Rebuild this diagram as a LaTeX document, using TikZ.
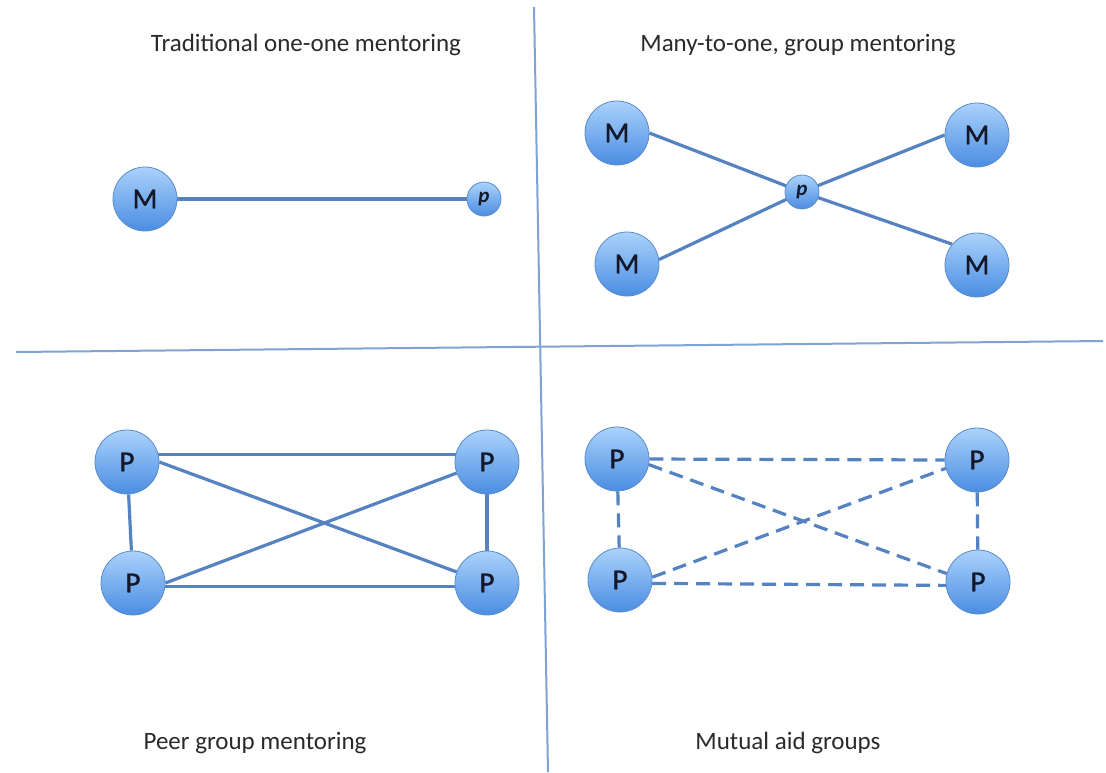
\documentclass[tikz,border=0pt]{standalone}
\usepackage{fontspec}
\setmainfont{Carlito}
\newfontfamily\letterfont[FakeBold=1.2]{Carlito}
\usetikzlibrary{backgrounds}
\definecolor{nodetop}{HTML}{AAD2FB}
\definecolor{nodebot}{HTML}{4A8DE2}
\definecolor{nodeborder}{HTML}{5A8CCB}
\definecolor{linkcol}{HTML}{5582C0}
\definecolor{divcol}{HTML}{7FA3D4}
\definecolor{txtcol}{HTML}{2A2A2A}
\definecolor{lettercol}{HTML}{141828}
\tikzset{
  bignode/.style={circle, minimum size=64pt, inner sep=0pt, top color=nodetop, bottom color=nodebot, draw=nodeborder, line width=0.8pt, text=lettercol, font=\letterfont\fontsize{29}{30}\selectfont\addfontfeature{FakeBold=1.2}},
  smallnode/.style={circle, minimum size=34pt, inner sep=0pt, top color=nodetop, bottom color=nodebot, draw=nodeborder, line width=0.8pt, text=lettercol, font=\fontsize{21}{22}\selectfont\bfseries\itshape},
  link/.style={draw=linkcol, line width=3.2pt},
  dlink/.style={draw=linkcol, line width=3.2pt, dash pattern=on 14pt off 8pt},
  divider/.style={draw=divcol, line width=2pt},
  title/.style={text=txtcol, font=\fontsize{25}{29}\selectfont, inner sep=0pt}
}
\begin{document}
\begin{tikzpicture}[x=1pt,y=-1pt]
\useasboundingbox (0,0) rectangle (1106,772);
% dividers
\coordinate (hl) at (16,352);
\coordinate (hr) at (1103,341);
\coordinate (vt) at (534,7);
\coordinate (vb) at (548,772);
\draw[divider] (hl) -- (hr);
\draw[divider] (vt) -- (vb);
% titles
\node[title] (t1) at (306,45) {Traditional one-one mentoring};
\node[title] (t2) at (798,45) {Many-to-one, group mentoring};
\node[title] (t3) at (255,743) {Peer group mentoring};
\node[title] (t4) at (788,743) {Mutual aid groups};
% top-left
\node[bignode] (m1) at (145,199) {M};
\node[smallnode] (p1) at (484,199) {p};
% top-right
\node[bignode] (m2) at (617,133) {M};
\node[bignode] (m3) at (977,135) {M};
\node[bignode] (m4) at (627,264) {M};
\node[bignode] (m5) at (977,265) {M};
\node[smallnode] (p2) at (802,192) {p};
% bottom-left
\node[bignode] (a1) at (127,462) {P};
\node[bignode] (a2) at (133,583) {P};
\node[bignode] (a3) at (487,462) {P};
\node[bignode] (a4) at (487,583) {P};
% bottom-right
\node[bignode] (b1) at (617,459) {P};
\node[bignode] (b2) at (620,580) {P};
\node[bignode] (b3) at (977,460) {P};
\node[bignode] (b4) at (978,582) {P};
\begin{scope}[on background layer]
\fill[white] (0,0) rectangle (1106,772);
\draw[link] (m1.east) -- (p1.west);
\draw[link] (m2.east) -- (p2.center) -- (m5.140);
\draw[link] (m4.8) -- (p2.center) -- (m3.west);
\draw[link] (a1.14) -- (a3.166);
\draw[link] (a2.-6) -- (a4.186);
\draw[link] (a1) -- (a2);
\draw[link] (a3) -- (a4);
\draw[link] (a1.east) -- (a4.160);
\draw[link] (a2.east) -- (a3.200);
\draw[dlink] (b1.east) -- (b3.west);
\draw[dlink] (b2.-6) -- (b4.186);
\draw[dlink] (b1) -- (b2);
\draw[dlink] (b3) -- (b4);
\draw[dlink] (b1.-10) -- (b4.165);
\draw[dlink] (b2.5) -- (b3.195);
\end{scope}
\end{tikzpicture}
\end{document}
